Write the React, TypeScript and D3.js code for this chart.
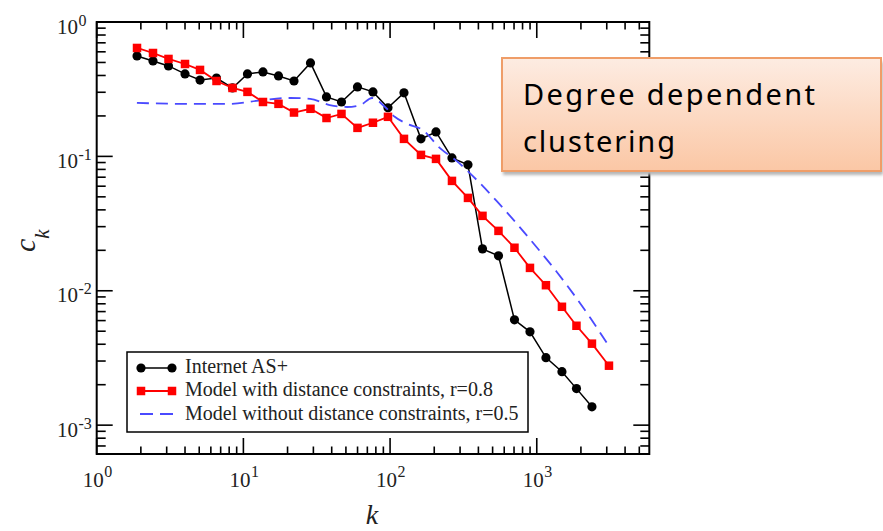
import React from 'react';
import * as d3 from 'd3';

// Logarithmic degree bins shared by the measured and simulated series
const degreeBins = [
  1.883, 2.42, 3.086, 4.0, 5.062, 6.557, 8.427, 10.66, 13.6, 17.35, 22.13, 28.67, 36.86,
  46.64, 59.95, 76.43, 96.76, 124.4, 162.4, 205.6, 264.2, 339.6, 426.6, 548.3, 704.7,
  898.9, 1155, 1485, 1865, 2378, 3106,
];

// Internet AS+ clustering (one value per bin, last bin empty)
const clusteringInternet = [
  0.559, 0.513, 0.471, 0.411, 0.37, 0.383, 0.323, 0.411, 0.425, 0.397, 0.364, 0.496, 0.277,
  0.254, 0.329, 0.302, 0.23, 0.297, 0.135, 0.152, 0.0974, 0.0865, 0.0205, 0.0182, 0.00608,
  0.00495, 0.00318, 0.0025, 0.00187, 0.00137,
];

// Model with distance constraints, r = 0.8
const clusteringConstrained = [
  0.641, 0.588, 0.531, 0.487, 0.44, 0.364, 0.323, 0.302, 0.254, 0.246, 0.212, 0.226, 0.193,
  0.207, 0.163, 0.178, 0.197, 0.135, 0.1026, 0.0958, 0.0657, 0.0491, 0.0361, 0.0279, 0.0209,
  0.0148, 0.011, 0.0076, 0.00549, 0.00404, 0.00277,
];

// Model without distance constraints, r = 0.5 (smooth curve)
const degreeUnconstrained = [
  1.88, 4.0, 8.1, 13.6, 20.8, 28.5, 38.8, 50.9, 62.6, 75.4, 92.5, 107.6, 130, 167, 218, 284,
  409, 534, 765, 1047, 1370, 1755, 2290, 3000,
];
const clusteringUnconstrained = [
  0.25, 0.246, 0.246, 0.263, 0.272, 0.268, 0.241, 0.233, 0.241, 0.272, 0.233, 0.197, 0.175,
  0.157, 0.1157, 0.0925, 0.0633, 0.0464, 0.0298, 0.0198, 0.0138, 0.00965, 0.00640, 0.0041,
];

const xTickExponents = [0, 1, 2, 3];
const yTickExponents = [0, -1, -2, -3];
const legendLabels = [
  'Internet AS+',
  'Model with distance constraints, r=0.8',
  'Model without distance constraints, r=0.5',
];
const calloutLines = ['Degree dependent', 'clustering'];

const W = 883;
const H = 531;
const L = 96.7;
const R = 649.3;
const T = 22;
const B = 454;
const SERIF = '"Liberation Serif", "Times New Roman", serif';

export default function App() {
  const x = d3.scaleLog().domain([1, 5850]).range([L, R]);
  const y = d3.scaleLog().domain([6.1e-4, 1]).range([B, T]);

  const xMinor: { v: number; major: boolean }[] = [];
  for (let e = 0; e <= 3; e++) {
    for (let m = 1; m <= 9; m++) {
      const v = m * Math.pow(10, e);
      if (v >= 1 && v <= 5850) xMinor.push({ v, major: m === 1 });
    }
  }
  const yMinor: { v: number; major: boolean }[] = [];
  for (let e = -4; e <= 0; e++) {
    for (let m = 1; m <= 9; m++) {
      const v = m * Math.pow(10, e);
      if (v >= 6.1e-4 && v <= 1) yMinor.push({ v, major: m === 1 });
    }
  }

  const internet = degreeBins
    .slice(0, clusteringInternet.length)
    .map((k, i) => [k, clusteringInternet[i]] as [number, number]);
  const constrained = degreeBins.map((k, i) => [k, clusteringConstrained[i]] as [number, number]);
  const unconstrained = degreeUnconstrained.map(
    (k, i) => [k, clusteringUnconstrained[i]] as [number, number]
  );

  const line = d3
    .line<[number, number]>()
    .x((d) => x(d[0]))
    .y((d) => y(d[1]));
  const smooth = d3
    .line<[number, number]>()
    .x((d) => x(d[0]))
    .y((d) => y(d[1]))
    .curve(d3.curveMonotoneX);

  const square = 8.5;
  const legendX0 = 137;
  const legendX1 = 173;
  const legendRows = [368, 391, 414];
  const legendBaselines = [373, 396, 420];

  return (
    <svg
      width={W}
      height={H}
      style={{ position: 'absolute', left: 0, top: 0, background: '#fff' }}
    >
      <defs>
        <linearGradient id="calloutFill" x1="0" y1="0" x2="0" y2="1">
          <stop offset="0%" stopColor="#fdece2" />
          <stop offset="100%" stopColor="#fbc7a5" />
        </linearGradient>
        <filter id="soft" x="-10%" y="-10%" width="120%" height="130%">
          <feGaussianBlur stdDeviation="1.5" />
        </filter>
      </defs>

      {/* ticks on all four sides */}
      <g stroke="#000" strokeWidth={1.6}>
        {xMinor.map(({ v, major }) => (
          <g key={'x' + v}>
            <line x1={x(v)} x2={x(v)} y1={T} y2={T + (major ? 16 : 7.5)} />
            <line x1={x(v)} x2={x(v)} y1={B} y2={B - (major ? 16 : 7.5)} />
          </g>
        ))}
        {yMinor.map(({ v, major }) => (
          <g key={'y' + v}>
            <line x1={L} x2={L + (major ? 16 : 9)} y1={y(v)} y2={y(v)} />
            <line x1={R} x2={R - (major ? 16 : 9)} y1={y(v)} y2={y(v)} />
          </g>
        ))}
      </g>
      <rect x={L} y={T} width={R - L} height={B - T} fill="none" stroke="#000" strokeWidth={2} />

      {/* tick labels */}
      <g fontFamily={SERIF} fill="#222">
        {xTickExponents.map((e) => (
          <g key={'xl' + e}>
            <text x={x(Math.pow(10, e)) + 7} y={487} fontSize={21} textAnchor="end">
              10
            </text>
            <text x={x(Math.pow(10, e)) + 7.5} y={477} fontSize={16}>
              {e}
            </text>
          </g>
        ))}
        {yTickExponents.map((e) => (
          <g key={'yl' + e}>
            <text x={78} y={y(Math.pow(10, e)) + 11.5} fontSize={21} textAnchor="end">
              10
            </text>
            <text x={78.5} y={y(Math.pow(10, e)) + 3.5} fontSize={16}>
              {e === 0 ? '0' : '-' + Math.abs(e)}
            </text>
          </g>
        ))}
      </g>

      {/* axis titles */}
      <text x={372} y={524} fontFamily={SERIF} fontStyle="italic" fontSize={28} textAnchor="middle" fill="#222">
        k
      </text>
      <text transform="translate(35,252) rotate(-90)" fontFamily={SERIF} fontStyle="italic" fill="#222">
        <tspan fontSize={30}>c</tspan>
        <tspan fontSize={21} dy={14}>
          k
        </tspan>
      </text>

      {/* Internet AS+ */}
      <path d={line(internet) || ''} fill="none" stroke="#000" strokeWidth={1.5} />
      {internet.map((d, i) => (
        <circle key={'b' + i} cx={x(d[0])} cy={y(d[1])} r={4.6} fill="#000" />
      ))}

      {/* Model without distance constraints */}
      <path
        d={smooth(unconstrained) || ''}
        fill="none"
        stroke="#4a4aff"
        strokeWidth={1.8}
        strokeDasharray="12,7"
      />

      {/* Model with distance constraints */}
      <path d={line(constrained) || ''} fill="none" stroke="#ff0000" strokeWidth={1.8} />
      {constrained.map((d, i) => (
        <rect
          key={'r' + i}
          x={x(d[0]) - square / 2}
          y={y(d[1]) - square / 2}
          width={square}
          height={square}
          fill="#ff0000"
        />
      ))}

      {/* legend */}
      <rect x={127} y={352} width={401} height={80} fill="#fff" stroke="#000" strokeWidth={1.5} />
      <line x1={legendX0} x2={legendX1} y1={legendRows[0]} y2={legendRows[0]} stroke="#000" strokeWidth={1.5} />
      <circle cx={legendX0 + 4} cy={legendRows[0]} r={4.6} fill="#000" />
      <circle cx={legendX1 - 1} cy={legendRows[0]} r={4.6} fill="#000" />
      <line x1={legendX0} x2={legendX1} y1={legendRows[1]} y2={legendRows[1]} stroke="#ff0000" strokeWidth={1.8} />
      <rect x={legendX0 + 4 - square / 2} y={legendRows[1] - square / 2} width={square} height={square} fill="#ff0000" />
      <rect x={legendX1 - 1 - square / 2} y={legendRows[1] - square / 2} width={square} height={square} fill="#ff0000" />
      <line
        x1={legendX0 + 3}
        x2={legendX1}
        y1={legendRows[2]}
        y2={legendRows[2]}
        stroke="#4a4aff"
        strokeWidth={1.8}
        strokeDasharray="13,7"
      />
      <g fontFamily={SERIF} fontSize={20} fill="#222">
        {legendLabels.map((label, i) => (
          <text key={label} x={185} y={legendBaselines[i]}>
            {label}
          </text>
        ))}
      </g>

      {/* callout */}
      <rect x={503} y={62} width={380} height={113} fill="#b5b5b5" filter="url(#soft)" />
      <rect x={502} y={58} width={379} height={113} fill="url(#calloutFill)" stroke="#ef9d68" strokeWidth={2} />
      <g fontFamily='"Noto Sans", "DejaVu Sans", sans-serif' fontSize={29} fill="#000">
        <text x={523} y={105} textLength={292} lengthAdjust="spacing">
          {calloutLines[0]}
        </text>
        <text x={523} y={152} textLength={152} lengthAdjust="spacing">
          {calloutLines[1]}
        </text>
      </g>
    </svg>
  );
}
